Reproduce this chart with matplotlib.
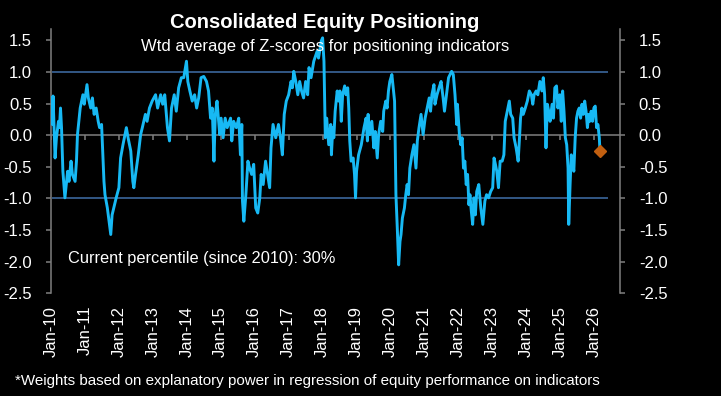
import matplotlib
matplotlib.use("Agg")
import matplotlib.pyplot as plt
import numpy as np

plt.rcParams["font.family"] = ["Liberation Sans", "DejaVu Sans"]

# weighted average of positioning z-scores
t = [
    2010.02, 2010.04, 2010.06, 2010.10, 2010.12, 2010.16, 2010.22, 2010.25, 2010.28, 2010.31,
    2010.35, 2010.41, 2010.45, 2010.49, 2010.53, 2010.59, 2010.63, 2010.71, 2010.75, 2010.78,
    2010.86, 2010.94, 2010.98, 2011.06, 2011.10, 2011.17, 2011.22, 2011.27, 2011.33, 2011.39,
    2011.43, 2011.49, 2011.56, 2011.59, 2011.66, 2011.71, 2011.76, 2011.80, 2011.85, 2011.92,
    2012.00, 2012.05, 2012.12, 2012.22, 2012.27, 2012.35, 2012.41, 2012.44, 2012.49, 2012.57,
    2012.64, 2012.69, 2012.78, 2012.83, 2012.90, 2012.98, 2013.08, 2013.14, 2013.23, 2013.29,
    2013.35, 2013.43, 2013.49, 2013.55, 2013.63, 2013.69, 2013.76, 2013.84, 2013.91, 2013.99,
    2014.03, 2014.09, 2014.16, 2014.23, 2014.29, 2014.35, 2014.42, 2014.50, 2014.58, 2014.64,
    2014.70, 2014.75, 2014.80, 2014.84, 2014.89, 2014.97, 2015.01, 2015.07, 2015.13, 2015.19,
    2015.29, 2015.325, 2015.38, 2015.46, 2015.53, 2015.58, 2015.62, 2015.64, 2015.68, 2015.74,
    2015.80, 2015.85, 2015.91, 2015.97, 2016.03, 2016.09, 2016.15, 2016.19, 2016.25, 2016.32,
    2016.38, 2016.44, 2016.48, 2016.54, 2016.62, 2016.70, 2016.76, 2016.815, 2016.87, 2016.93,
    2017.00, 2017.07, 2017.11, 2017.15, 2017.21, 2017.27, 2017.325, 2017.38, 2017.44, 2017.50,
    2017.56, 2017.60, 2017.66, 2017.74, 2017.84, 2017.88, 2017.96, 2018.00, 2018.04, 2018.08,
    2018.12, 2018.18, 2018.24, 2018.26, 2018.30, 2018.33, 2018.37, 2018.43, 2018.47, 2018.51,
    2018.55, 2018.59, 2018.65, 2018.69, 2018.74, 2018.77, 2018.80, 2018.84, 2018.90, 2018.94,
    2018.97, 2019.00, 2019.06, 2019.14, 2019.22, 2019.28, 2019.32, 2019.34, 2019.39, 2019.45,
    2019.51, 2019.55, 2019.61, 2019.65, 2019.71, 2019.77, 2019.80, 2019.86, 2019.90, 2019.94,
    2019.98, 2020.04, 2020.08, 2020.12, 2020.16, 2020.20, 2020.24, 2020.28, 2020.31, 2020.35,
    2020.41, 2020.45, 2020.49, 2020.53, 2020.57, 2020.63, 2020.69, 2020.75, 2020.79, 2020.84,
    2020.90, 2020.96, 2021.02, 2021.08, 2021.14, 2021.18, 2021.22, 2021.28, 2021.31, 2021.37,
    2021.43, 2021.49, 2021.55, 2021.59, 2021.65, 2021.71, 2021.80, 2021.85, 2021.90, 2021.95,
    2021.97, 2022.03, 2022.07, 2022.11, 2022.15, 2022.19, 2022.23, 2022.27, 2022.31, 2022.34,
    2022.38, 2022.42, 2022.46, 2022.50, 2022.54, 2022.60, 2022.66, 2022.72, 2022.78, 2022.83,
    2022.89, 2022.95, 2023.01, 2023.05, 2023.09, 2023.13, 2023.18, 2023.23, 2023.29, 2023.34,
    2023.38, 2023.44, 2023.50, 2023.54, 2023.60, 2023.64, 2023.70, 2023.76, 2023.80, 2023.83,
    2023.87, 2023.91, 2023.97, 2024.03, 2024.09, 2024.15, 2024.19, 2024.23, 2024.29, 2024.34,
    2024.40, 2024.46, 2024.50, 2024.54, 2024.58, 2024.62, 2024.66, 2024.70, 2024.76, 2024.80,
    2024.84, 2024.89, 2024.93, 2024.99, 2025.03, 2025.07, 2025.11, 2025.15, 2025.19, 2025.23,
    2025.25, 2025.29, 2025.325, 2025.36, 2025.40, 2025.44, 2025.48, 2025.52, 2025.56, 2025.60,
    2025.64, 2025.68, 2025.72, 2025.76, 2025.80, 2025.84, 2025.87, 2025.91, 2025.95, 2025.99,
    2026.03, 2026.07, 2026.11, 2026.15, 2026.17,
]
z = [
    0.59, 0.17, 0.62, -0.04, -0.36, -0.04, 0.22, 0.12, 0.43, 0.12,
    -0.57, -0.99, -0.78, -0.57, -0.73, -0.41, -0.62, -0.73, -0.41, 0.01,
    0.43, 0.64, 0.49, 0.80, 0.59, 0.43, 0.59, 0.33, 0.43, 0.22,
    0.12, 0.17, -0.73, -0.94, -1.15, -1.36, -1.57, -1.26, -1.15, -0.99,
    -0.83, -0.36, -0.15, 0.12, -0.04, -0.25, -0.73, -0.83, -0.62, -0.31,
    0.01, 0.12, 0.33, 0.22, 0.43, 0.54, 0.64, 0.43, 0.64, 0.49,
    0.64, 0.12, -0.09, 0.43, 0.64, 0.38, 0.75, 0.91, 0.91, 1.17,
    0.85, 0.70, 0.54, 0.64, 0.43, 0.59, 0.91, 0.93, 0.85, 0.70,
    0.27, 0.43, -0.41, 0.33, 0.54, 0.01, 0.27, -0.04, 0.27, 0.12,
    0.27, -0.09, 0.22, 0.12, 0.27, -0.31, 0.17, -1.04, -1.36, -0.94,
    -0.41, -0.52, -0.62, -0.46, -1.15, -1.23, -0.99, -0.62, -0.78, -0.41,
    -0.62, -0.83, -0.20, 0.17, -0.04, 0.17, -0.04, -0.31, 0.33, 0.54,
    0.64, 0.85, 0.75, 1.01, 0.85, 0.64, 0.85, 0.70, 0.59, 0.85,
    0.64, 1.07, 0.91, 1.17, 1.33, 1.22, 1.49, 1.54, 1.17, -0.04,
    0.27, -0.15, 0.17, -0.31, 0.12, -0.04, 0.38, 0.70, 0.54, 0.70,
    0.22, 0.64, 0.78, 0.64, 0.75, 0.43, -0.09, -0.41, -0.36, -0.62,
    -0.99, -0.57, -0.31, -0.15, 0.12, 0.27, -0.09, 0.33, 0.01, 0.22,
    -0.20, 0.06, -0.36, 0.01, 0.22, 0.06, 0.38, 0.54, 0.43, 0.70,
    0.85, 0.96, 0.75, 0.54, -0.94, -1.47, -2.05, -1.68, -1.57, -1.31,
    -1.15, -0.94, -0.78, -0.94, -0.52, -0.31, -0.15, -0.52, -0.09, 0.12,
    0.33, 0.01, 0.27, 0.43, 0.59, 0.38, 0.64, 0.80, 0.49, 0.64,
    0.75, 0.85, 0.59, 0.38, 0.64, 0.91, 1.01, 0.96, 0.64, 0.17,
    0.49, 0.01, -0.15, -0.04, -0.52, -0.41, -0.78, -0.62, -1.10, -0.94,
    -1.20, -1.41, -0.99, -1.26, -0.89, -0.78, -1.15, -1.41, -1.04, -0.94,
    -0.99, -0.89, -0.83, -0.36, -0.46, -0.57, -0.83, -0.41, -0.41, -0.31,
    0.22, 0.38, 0.54, 0.33, 0.27, -0.04, -0.20, -0.41, -0.04, 0.27,
    0.43, 0.33, 0.43, 0.54, 0.70, 0.64, 0.49, 0.64, 0.70, 0.64,
    0.85, 0.70, 0.91, 0.64, -0.20, 0.49, 0.38, 0.22, 0.49, 0.27,
    0.75, 0.78, 0.43, 0.64, 0.22, 0.70, 0.38, -0.04, -0.15, -0.52,
    -1.41, -0.78, -0.31, -0.41, -0.57, -0.04, 0.27, 0.38, 0.43, 0.27,
    0.49, 0.33, 0.54, 0.38, 0.12, 0.33, 0.22, 0.38, 0.22, 0.43,
    0.46, 0.12, 0.17, -0.04, -0.25,
]

years = list(range(2010, 2027))
year_labels = [f"Jan-{y % 100:02d}" for y in years]
y_ticks = [1.5, 1.0, 0.5, 0.0, -0.5, -1.0, -1.5, -2.0, -2.5]
bands = [1.0, -1.0]
percentile = 30

line_col = "#17B9F4"
band_col = "#3C679B"
axis_col = "#7F7F7F"
txt_col = "#FFFFFF"

fig = plt.figure(figsize=(7.21, 3.96), dpi=100, facecolor="black")
ax = fig.add_axes([51 / 721, 1 - 293.3 / 396, 569 / 721, 264.3 / 396])
ax.set_facecolor("black")

ax.set_xlim(2010.02, 2026.76)
ax.set_ylim(-2.5, 1.68)

ax.axhline(0, color=axis_col, lw=1.1, zorder=1)
ax.plot(years, np.zeros(len(years)), ls="none", marker=3, ms=3.5,
        mec=axis_col, mew=1.1, zorder=1)
ax.hlines(bands, 2010.02, 2026.4, color=band_col, lw=1.2, zorder=1)

ax.plot(t, z, color=line_col, lw=2.1, zorder=3)
ax.plot(t[-1], z[-1], marker="D", ms=6, color="#C25F10", ls="none", zorder=4)

for side in ["top", "bottom"]:
    ax.spines[side].set_visible(False)
for side in ["left", "right"]:
    ax.spines[side].set_color(axis_col)
    ax.spines[side].set_linewidth(1.1)

ax.set_yticks(y_ticks)
ax.set_yticklabels([f"{v:.1f}" for v in y_ticks])
ax.tick_params(axis="y", which="both", direction="out", length=3.5, width=1.1,
               color=axis_col, labelcolor=txt_col, labelsize=12,
               left=True, right=True, labelleft=True, labelright=True)
ax.tick_params(axis="y", which="both", pad=10)

ax.set_xticks(years)
ax.set_xticklabels(year_labels, rotation=90)
ax.tick_params(axis="x", length=0, pad=9, labelcolor=txt_col, labelsize=12)

fig.text(325 / 721, 1 - 23 / 396, "Consolidated Equity Positioning", color=txt_col,
         fontsize=14.5, fontweight="bold", ha="center", va="center")
fig.text(325 / 721, 1 - 47 / 396, "Wtd average of Z-scores for positioning indicators",
         color=txt_col, fontsize=12, ha="center", va="center")
fig.text(68 / 721, 1 - 259 / 396, f"Current percentile (since 2010): {percentile}%",
         color=txt_col, fontsize=11.8, ha="left", va="center")
fig.text(15 / 721, 1 - 381 / 396,
         "*Weights based on explanatory power in regression of equity performance on indicators",
         color=txt_col, fontsize=10.9, ha="left", va="center")

fig.savefig("out.png", dpi=100, facecolor="black")
